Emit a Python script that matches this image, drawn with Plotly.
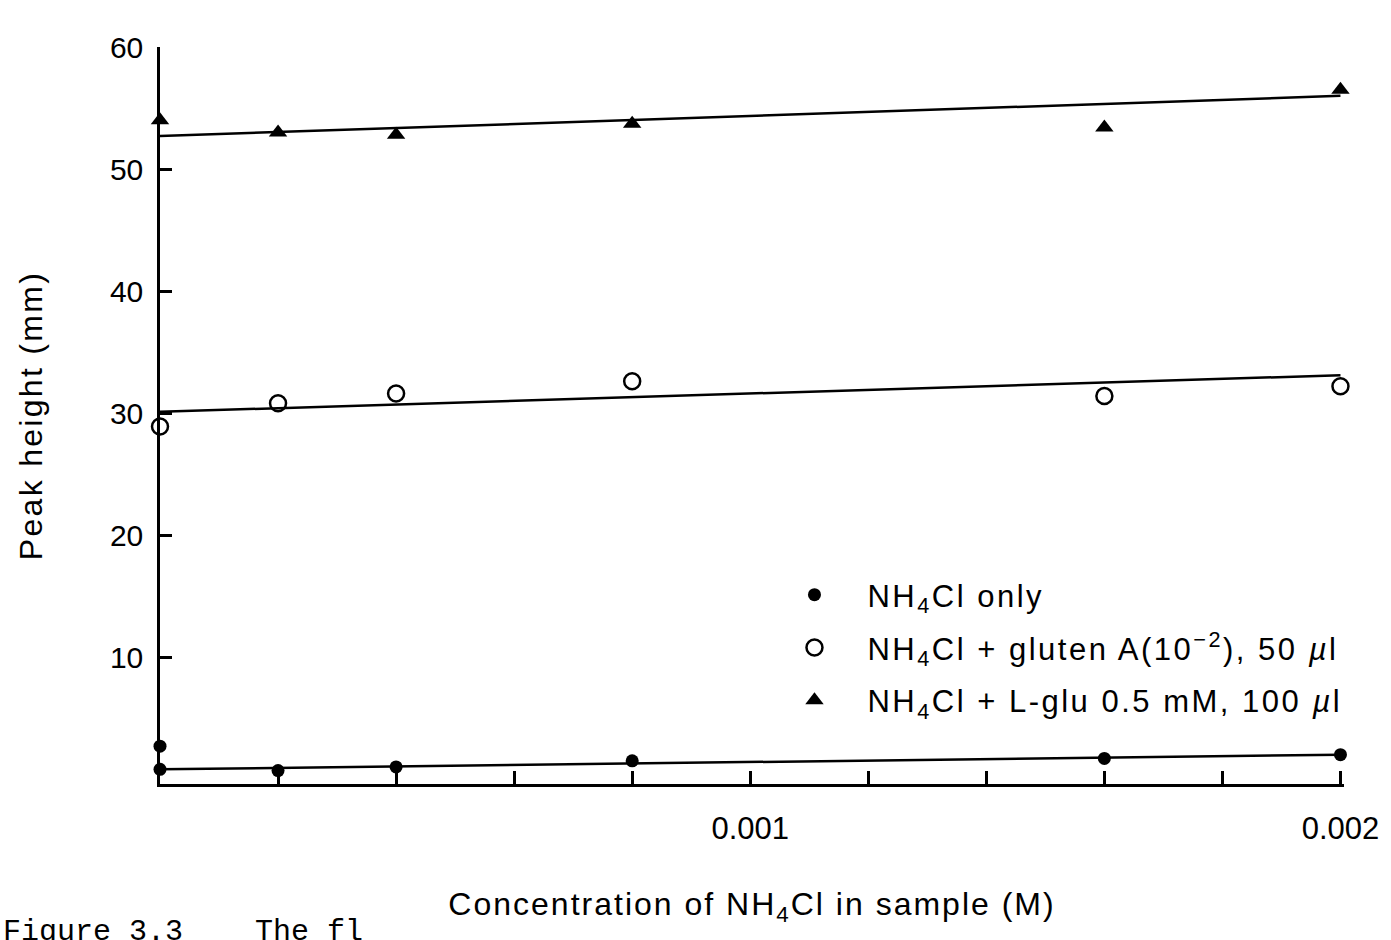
import plotly.graph_objects as go

# ---- data (in the chart's own frame) ----
conc_only = [0, 0, 0.0002, 0.0004, 0.0008, 0.0016, 0.002]
peak_only = [2.7, 0.8, 0.7, 1.0, 1.5, 1.7, 2.0]

conc = [0, 0.0002, 0.0004, 0.0008, 0.0016, 0.002]
peak_gluten = [28.9, 30.8, 31.6, 32.6, 31.4, 32.2]
peak_lglu = [54.0, 53.0, 52.8, 53.7, 53.4, 56.5]

fit_x = [0, 0.002]
fit_only = [0.8, 2.0]
fit_gluten = [30.1, 33.1]
fit_lglu = [52.7, 56.0]

x_tickvals = [0.0002, 0.0004, 0.0006, 0.0008, 0.001, 0.0012, 0.0014, 0.0016, 0.0018, 0.002]
x_ticktext = ["", "", "", "", "0.001", "", "", "", "", "0.002"]
y_tickvals = [10, 20, 30, 40, 50, 60]
y_ticktext = ["10", "20", "30", "40", "50", "60"]

SP = '<span style="letter-spacing:{}px">{}</span>'
names = [SP.format(2.5, "NH<sub>4</sub>Cl only"),
         SP.format(2.5, "NH<sub>4</sub>Cl + gluten A(10<sup>−2</sup>), 50 <i>µ</i>l"),
         SP.format(2.5, "NH<sub>4</sub>Cl + L-glu 0.5 mM, 100 <i>µ</i>l")]
x_title = SP.format(2, "Concentration of NH<sub>4</sub>Cl in sample (M)")
y_title = SP.format(2.3, "Peak height (mm)")

FONT = "Liberation Sans, Arial, sans-serif"
LW = 2.5

fig = go.Figure()

# fitted lines
for fy in (fit_only, fit_gluten, fit_lglu):
    fig.add_trace(go.Scatter(x=fit_x, y=fy, mode="lines",
                             line=dict(color="black", width=LW),
                             showlegend=False, hoverinfo="skip",
                             cliponaxis=False))

fig.add_trace(go.Scatter(x=conc_only, y=peak_only, mode="markers", name=names[0],
                         legendgroup="a",
                         marker=dict(symbol="circle", size=13, color="black"),
                         cliponaxis=False))
fig.add_trace(go.Scatter(x=conc, y=peak_gluten, mode="markers", name=names[1],
                         legendgroup="b",
                         marker=dict(symbol="circle-open", size=16, color="black",
                                     line=dict(width=2.5, color="black")),
                         cliponaxis=False))
fig.add_trace(go.Scatter(x=conc, y=peak_lglu, mode="markers", name=names[2],
                         legendgroup="c",
                         marker=dict(symbol="triangle-up", size=16, color="black"),
                         cliponaxis=False))

fig.update_layout(
    width=1391, height=940,
    margin=dict(l=160, r=38, t=47, b=156),
    paper_bgcolor="white", plot_bgcolor="white",
    font=dict(family=FONT, color="black", size=30),
    legend=dict(x=0.508, y=0.293, xanchor="left", yanchor="top",
                font=dict(size=31, family=FONT), bgcolor="rgba(0,0,0,0)",
                tracegroupgap=9.5, traceorder="grouped", itemwidth=96),
    xaxis=dict(range=[0, 0.002006], showline=True, linecolor="black", linewidth=LW,
               ticks="inside", ticklen=13, tickwidth=LW, tickcolor="black",
               tickvals=x_tickvals, ticktext=x_ticktext,
               showgrid=False, zeroline=False, tickfont=dict(size=31),
               ticklabelstandoff=15, ticklabeloverflow="allow",
               title=dict(text=x_title, font=dict(size=32), standoff=48)),
    yaxis=dict(range=[-0.4, 60], showline=True, linecolor="black", linewidth=LW,
               ticks="inside", ticklen=12, tickwidth=LW, tickcolor="black",
               tickvals=y_tickvals, ticktext=y_ticktext,
               showgrid=False, zeroline=False, tickfont=dict(size=30),
               ticklabelstandoff=8,
               title=dict(text=y_title, font=dict(size=32), standoff=58)),
)

fig.add_annotation(text="Figure 3.3    The fl", xref="paper", yref="paper",
                   x=-0.134, y=-0.175, xanchor="left", yanchor="top",
                   showarrow=False,
                   font=dict(family="Liberation Mono, Courier New, monospace", size=30))

fig.write_html("out.html", config={"displayModeBar": False},
               post_script="document.body.style.margin='0';")
